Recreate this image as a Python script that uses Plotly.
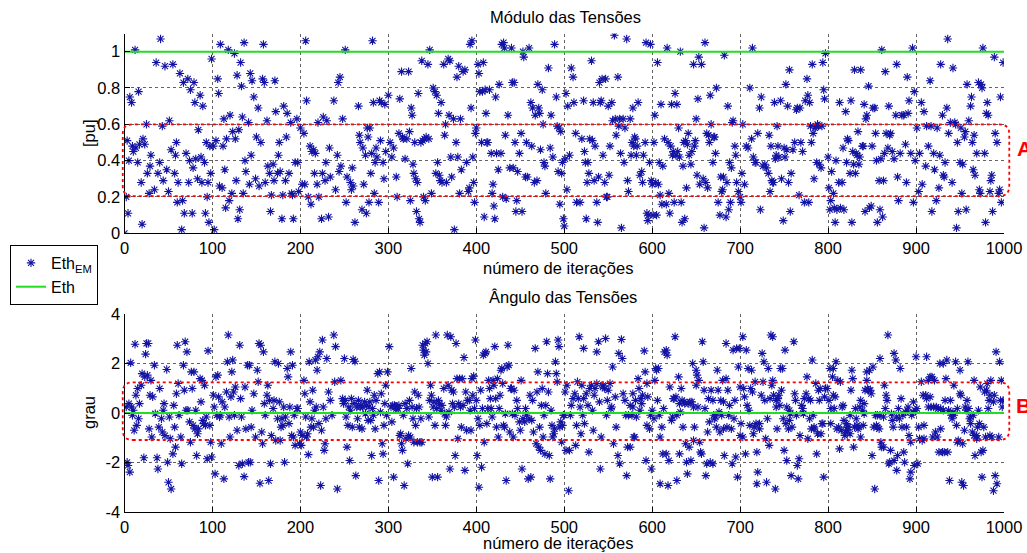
import plotly.graph_objects as go

# ---------------- data ----------------
# Top panel: (iteration, |E| in pu)
top_samples = [
(0,0.00),(2,0.20),(3,0.51),(4,0.11),(5,0.40),(6,0.75),(8,0.72),(9,0.48),(10,0.45),(12,1.01),(13,0.47),(15,0.39),(16,0.78),(17,0.49),(19,0.28),(20,0.05),(21,0.52),(23,0.49),(25,0.60),(26,0.33),
(28,0.22),(29,0.37),(30,0.43),(34,0.24),(36,0.94),(38,0.33),(40,0.39),(41,1.07),(43,0.59),(44,0.29),(46,0.92),(48,0.35),(50,0.23),(51,0.62),(53,0.46),(55,0.93),(57,0.33),(58,0.43),(59,0.50),(60,0.17),
(61,0.28),(63,0.88),(65,0.02),(66,0.18),(67,0.83),(68,0.11),(70,0.44),(72,0.85),(73,0.28),(74,0.40),(75,0.79),(77,0.11),(78,0.36),(79,0.83),(80,0.72),(81,0.41),(83,0.30),(84,0.57),(86,0.76),(87,0.42),
(88,0.28),(89,0.70),(91,0.39),(92,0.11),(93,0.50),(94,0.20),(95,0.28),(96,0.06),(97,0.48),(98,0.33),(99,0.96),(101,0.48),(102,0.02),(104,0.51),(106,0.85),(107,0.77),(108,0.26),(109,1.04),(111,0.25),(112,0.48),
(113,0.63),(114,0.35),(115,0.14),(116,0.52),(118,1.01),(119,0.18),(120,0.65),(122,0.22),(123,0.56),(125,0.99),(126,0.52),(127,0.29),(128,0.87),(129,0.08),(130,0.57),(131,0.13),(132,0.94),(133,0.81),(134,0.64),(135,0.22),
(136,1.05),(137,0.40),(138,0.34),(141,0.61),(142,0.27),(143,0.88),(144,0.43),(145,0.84),(147,0.75),(149,0.30),(150,0.53),(152,0.69),(153,0.26),(155,0.50),(157,0.85),(158,1.04),(159,0.83),(160,0.28),(162,0.62),(163,0.37),
(165,0.33),(166,0.12),(167,0.21),(169,0.38),(170,0.29),(171,0.84),(172,0.67),(174,0.33),(175,0.43),(176,0.50),(177,0.34),(179,0.08),(180,0.21),(181,0.70),(183,0.29),(184,0.53),(185,0.66),(187,0.33),(189,0.61),(190,0.22),
(191,0.21),(192,0.08),(194,0.39),(196,0.63),(197,0.39),(198,0.23),(200,0.58),(202,0.27),(204,0.55),(205,0.27),(206,1.06),(207,0.73),(209,0.20),(211,0.48),(212,0.16),(213,0.45),(215,0.46),(216,0.33),(217,0.44),(219,0.27),
(220,0.61),(221,0.20),(224,0.08),(225,0.33),(226,0.64),(228,0.29),(229,0.39),(230,0.62),(232,0.09),(233,0.47),(234,0.31),(238,0.73),(240,0.24),(242,0.43),(243,0.83),(244,0.34),(245,0.86),(246,0.37),(248,0.63),(251,1.01),
(252,0.17),(253,0.31),(257,0.28),(258,0.24),(259,0.36),(260,0.26),(262,0.06),(266,0.70),(267,0.54),(268,0.50),(270,0.13),(271,0.47),(272,0.27),(274,0.43),(275,0.11),(276,0.58),(277,0.53),(278,0.17),(279,0.58),(280,0.33),
(281,0.44),(282,1.06),(283,0.72),(284,0.22),(285,0.39),(286,0.47),(287,0.42),(289,0.17),(290,0.73),(291,0.51),(292,0.72),(294,0.39),(295,0.30),(296,0.71),(297,0.45),(300,0.76),(302,0.50),(304,0.42),(306,0.47),(309,0.31),
(310,0.20),(312,0.55),(313,0.74),(315,0.89),(316,0.53),(317,0.52),(319,0.41),(321,0.52),(323,0.89),(324,0.56),(325,0.18),(326,0.69),(327,0.65),(328,0.38),(329,0.33),(330,0.50),(331,0.30),(332,0.12),(333,0.28),(334,0.77),
(335,0.08),(336,0.06),(337,0.50),(338,0.95),(339,0.51),(340,0.20),(341,0.52),(342,0.18),(343,0.53),(345,0.93),(346,0.52),(347,1.01),(349,0.22),(351,0.80),(353,0.78),(354,0.33),(355,0.76),(356,0.39),(357,0.66),(358,0.32),
(359,0.29),(360,0.72),(361,0.28),(363,0.93),(364,0.54),(365,0.60),(366,0.28),(368,0.96),(369,0.65),(370,0.95),(371,0.42),(372,0.31),(374,0.63),(375,0.02),(377,0.50),(378,0.86),(379,0.42),(380,0.92),(381,0.22),(382,0.63),
(383,0.35),(385,0.89),(387,0.90),(389,0.39),(391,0.23),(392,0.25),(393,1.04),(394,0.69),(395,1.06),(396,0.42),(397,0.28),(398,0.17),(399,0.55),(400,0.58),(402,0.93),(403,0.88),(404,0.78),(406,0.50),(407,0.78),(408,0.94),
(409,0.09),(410,0.79),(411,0.66),(412,0.50),(413,0.50),(415,0.79),(417,0.44),(418,0.22),(419,0.27),(420,0.15),(421,0.08),(422,0.75),(423,0.44),(425,0.35),(426,0.82),(428,0.44),(429,1.04),(430,0.20),(431,1.05),(432,1.02),
(433,0.54),(434,0.19),(436,0.65),(438,0.36),(440,1.02),(441,0.83),(442,0.36),(443,0.83),(444,0.50),(445,0.12),(446,0.18),(447,0.34),(449,0.44),(451,0.55),(452,0.12),(453,1.00),(454,0.97),(456,0.31),(457,0.50),(458,0.31),
(460,1.02),(462,0.72),(463,0.48),(464,0.69),(466,0.28),(467,0.65),(469,0.29),(470,0.82),(471,0.69),(472,0.66),(473,0.46),(475,0.79),(476,0.60),(477,0.39),(478,0.37),(479,0.22),(482,0.91),(484,0.47),(485,0.65),(487,0.42),
(489,1.04),(491,0.75),(492,0.59),(493,0.34),(494,0.58),(495,0.16),(496,0.56),(497,0.33),(498,0.39),(499,0.08),(500,0.04),(501,0.41),(502,0.77),(503,0.24),(504,0.70),(506,0.43),(508,0.91),(510,0.86),(511,0.72),(513,0.55),
(514,0.17),(518,0.17),(520,0.52),(522,0.73),(523,0.45),(524,0.39),(525,0.08),(526,0.28),(527,0.39),(528,0.33),(529,0.52),(531,0.95),(532,0.51),(533,0.72),(534,0.29),(535,0.48),(537,0.17),(538,0.06),(539,0.31),(540,0.83),
(541,0.72),(542,0.73),(543,0.85),(544,0.43),(546,0.28),(547,0.85),(548,0.20),(549,0.20),(550,0.70),(551,0.32),(552,0.48),(554,0.72),(555,0.62),(557,1.09),(558,0.63),(559,0.54),(561,0.86),(562,0.59),(563,0.63),(564,0.44),
(565,0.03),(567,0.63),(568,0.39),(569,0.58),(571,1.07),(572,0.29),(573,0.23),(575,0.63),(576,0.43),(577,0.50),(578,0.69),(579,0.48),(580,0.53),(581,0.52),(582,0.43),(583,0.48),(584,0.72),(586,0.32),(588,0.34),(589,0.28),
(590,0.43),(592,0.50),(593,1.05),(594,0.11),(595,0.07),(596,0.10),(597,0.39),(598,1.04),(599,0.29),(600,0.27),(601,0.10),(602,0.50),(603,0.65),(604,0.28),(605,0.10),(606,0.94),(607,0.27),(608,0.39),(609,0.21),(610,0.71),
(611,0.16),(612,0.37),(614,0.52),(616,0.16),(617,1.02),(618,0.50),(619,0.22),(620,0.11),(621,0.48),(622,0.71),(623,0.43),(624,0.45),(625,0.17),(626,0.77),(627,0.43),(628,0.71),(629,0.45),(630,0.58),(631,0.42),(632,1.00),
(633,0.17),(634,0.06),(635,0.37),(636,0.50),(637,0.08),(638,0.51),(639,0.25),(640,0.49),(641,0.55),(642,0.43),(644,0.38),(645,0.45),(647,0.93),(648,0.48),(649,0.51),(650,0.63),(651,0.32),(652,0.74),(653,0.97),(654,0.27),
(656,0.93),(658,0.30),(659,0.03),(660,1.05),(661,0.28),(662,0.55),(663,0.25),(664,0.54),(665,0.50),(666,0.76),(667,0.60),(669,0.39),(670,0.53),(671,0.53),(672,0.44),(673,0.80),(675,0.17),(677,0.10),(678,0.31),(679,0.23),
(680,0.24),(681,0.31),(682,0.98),(684,0.09),(685,0.28),(686,0.70),(687,0.13),(688,0.39),(689,0.17),(690,0.36),(691,0.61),(692,0.62),(694,0.48),(695,0.43),(696,0.28),(698,0.23),(700,0.20),(701,0.17),(702,0.33),(703,0.60),
(705,0.27),(707,0.48),(709,0.47),(711,0.80),(713,0.52),(714,1.02),(715,0.42),(717,0.39),(718,0.39),(720,0.55),(722,0.69),(723,0.13),(724,0.75),(726,0.37),(728,0.38),(730,0.36),(732,0.33),(733,0.54),(734,0.23),(735,0.48),
(736,0.29),(737,0.28),(738,0.28),(739,0.72),(740,0.41),(741,0.43),(742,0.59),(743,0.48),(744,0.42),(746,0.73),(747,0.30),(749,0.07),(750,0.47),(751,0.42),(752,0.82),(753,0.46),(754,0.70),(755,0.28),(756,0.90),(757,0.12),
(758,0.33),(760,0.46),(762,0.50),(764,0.68),(765,0.69),(767,0.21),(768,0.69),(769,0.50),(771,0.45),(773,0.17),(774,0.73),(776,0.85),(777,0.76),(778,0.17),(779,0.72),(780,0.59),(781,0.50),(782,0.93),(783,0.55),(784,0.30),
(785,0.58),(786,0.59),(787,0.39),(788,0.60),(789,0.59),(790,0.38),(792,0.36),(793,0.59),(794,0.94),(795,0.79),(796,0.74),(797,0.99),(800,0.42),(801,0.25),(802,0.13),(803,0.18),(804,0.34),(806,0.22),(807,0.14),(808,0.06),
(809,0.40),(810,0.13),(812,0.28),(813,0.72),(814,0.14),(816,0.28),(817,0.47),(818,0.13),(820,0.67),(821,0.39),(822,0.52),(823,0.51),(825,0.33),(826,0.73),(827,0.06),(828,0.45),(829,0.38),(830,0.90),(831,0.33),(832,0.44),
(833,0.43),(834,0.56),(835,0.38),(836,0.42),(837,0.90),(839,0.48),(840,0.48),(841,0.71),(842,0.12),(843,0.63),(844,0.65),(846,0.81),(847,0.14),(849,0.15),(850,0.48),(851,0.69),(853,0.69),(854,0.55),(855,0.40),(856,0.06),
(858,0.29),(859,0.13),(860,0.41),(861,1.01),(862,0.09),(863,0.29),(864,0.44),(865,0.89),(866,0.55),(868,0.47),(869,0.70),(870,0.54),(871,0.55),(873,0.45),(875,0.41),(877,0.65),(878,0.93),(879,0.31),(880,0.18),(882,0.44),
(884,0.65),(886,0.65),(888,0.49),(889,0.28),(890,0.86),(891,0.66),(892,0.73),(894,0.44),(896,1.02),(897,0.17),(898,0.78),(899,0.40),(901,0.58),(903,0.23),(904,0.44),(906,0.72),(907,0.27),(909,0.67),(911,0.37),(912,0.59),
(914,0.48),(916,0.84),(917,0.59),(918,0.12),(920,0.44),(921,0.35),(923,0.18),(924,0.58),(926,0.25),(927,0.43),(928,0.93),(930,0.65),(931,0.32),(932,0.31),(933,0.39),(935,0.69),(936,1.07),(937,0.55),(939,0.61),(941,0.28),
(942,0.91),(944,0.61),(945,0.60),(946,0.03),(947,0.50),(948,0.12),(950,0.39),(951,0.58),(952,0.22),(953,0.38),(955,0.53),(956,0.56),(957,0.13),(958,0.82),(960,0.62),(962,0.70),(963,0.75),(964,0.50),(965,0.35),(966,0.54),
(967,0.32),(969,0.44),(971,0.83),(972,0.24),(973,0.22),(974,0.82),(975,0.80),(976,1.02),(978,0.44),(979,0.06),(980,0.66),(981,0.72),(982,0.65),(984,0.23),(985,0.29),(986,0.32),(987,0.12),(989,0.97),(990,0.55),(992,0.50),
(994,0.22),(995,0.24),(996,0.75),(997,0.17),(999,0.94),
]

# Bottom panel: (iteration, angle in degrees)
bottom_samples = [
(2,0.24),(3,-1.99),(4,-2.12),(5,0.38),(6,-2.39),(7,2.03),(8,0.24),(9,-0.09),(10,0.11),(11,-0.70),(12,2.78),(13,0.72),(14,-0.50),(15,0.99),(16,-0.23),(17,0.38),(19,1.12),(20,1.59),(22,-1.81),(23,1.46),
(24,2.38),(25,2.81),(26,1.53),(27,2.81),(28,-0.64),(29,0.72),(30,1.32),(31,-0.97),(32,0.65),(34,1.93),(35,-0.03),(37,-1.81),(38,-2.26),(39,-0.57),(40,0.99),(42,-0.23),(43,-0.77),(44,0.11),(45,0.38),(46,-0.91),
(48,1.76),(49,-1.99),(50,-2.80),(51,-0.16),(52,-1.04),(53,-3.07),(55,-1.65),(56,0.31),(57,-0.57),(58,-1.38),(59,0.78),(60,2.74),(61,1.19),(62,-0.09),(64,-0.97),(65,-2.05),(67,1.93),(68,0.92),(69,2.88),(70,0.11),
(71,2.47),(72,0.11),(74,-0.36),(75,-1.18),(76,1.66),(77,0.99),(78,-0.50),(79,1.66),(80,-0.64),(81,0.11),(82,-1.72),(83,-0.84),(84,-0.64),(86,1.39),(87,0.45),(88,1.32),(89,-0.30),(90,-0.43),(91,1.12),(92,-0.50),
(93,-0.16),(94,-1.85),(95,2.51),(97,-0.50),(98,-1.18),(99,-1.78),(101,0.72),(102,0.24),(103,-2.46),(104,1.46),(105,-0.09),(106,1.53),(107,0.65),(108,-0.16),(109,-0.09),(110,-1.24),(111,0.45),(113,-2.66),(114,0.24),(116,0.85),
(117,2.07),(118,3.15),(119,-0.16),(120,-0.97),(121,0.65),(122,1.66),(123,2.14),(124,0.85),(125,-0.09),(126,1.05),(128,-0.70),(130,-2.12),(131,2.74),(132,0.58),(133,-0.16),(134,-2.05),(136,-2.57),(137,1.05),(138,-0.64),(140,1.93),
(141,-1.99),(142,1.93),(143,-1.99),(144,-0.57),(145,0.11),(147,0.78),(149,-0.97),(151,1.73),(152,1.26),(153,2.81),(154,-2.84),(155,2.74),(156,-0.77),(157,-1.24),(158,2.47),(159,0.38),(160,-0.09),(162,0.72),(163,1.12),(164,-2.73),
(165,0.51),(166,-2.05),(167,-0.91),(169,0.18),(170,0.51),(171,2.07),(172,-1.11),(174,-0.23),(175,2.00),(176,0.45),(177,-1.11),(178,-0.57),(179,-0.23),(180,-0.50),(181,0.24),(182,-1.99),(183,-0.16),(185,1.80),(186,1.46),(187,-0.43),
(188,0.24),(189,2.47),(190,-0.91),(191,1.93),(192,-0.97),(193,-0.09),(194,-1.31),(196,0.18),(197,0.18),(199,-1.24),(200,-0.77),(201,-1.31),(202,-0.91),(204,1.32),(205,0.78),(206,-0.16),(207,-0.97),(208,-0.84),(209,-1.68),(210,2.07),
(211,0.45),(212,-0.57),(213,-0.23),(214,0.92),(215,-0.57),(216,0.11),(217,2.14),(218,0.24),(219,1.73),(220,2.27),(221,-0.43),(222,2.47),(223,-2.93),(224,-0.70),(225,2.95),(226,0.24),(227,-1.51),(228,-1.24),(229,-0.23),(230,2.20),
(232,0.85),(234,0.51),(236,-0.09),(238,3.15),(239,1.26),(240,2.68),(242,-3.07),(246,1.32),(248,0.58),(249,0.38),(250,2.20),(251,0.51),(252,-0.16),(253,-1.38),(254,-0.50),(255,0.24),(256,-1.92),(257,0.11),(258,0.58),(259,-0.57),
(260,2.16),(261,0.38),(262,2.09),(263,-2.53),(264,0.24),(265,-0.23),(266,0.51),(267,-0.57),(268,0.24),(269,0.31),(270,-0.64),(271,0.24),(273,0.45),(274,-0.03),(275,0.31),(276,0.92),(277,-0.30),(278,0.24),(279,0.45),(280,-0.30),
(281,-1.72),(282,0.18),(283,-0.09),(284,0.72),(285,-0.64),(286,0.51),(288,1.59),(289,-2.73),(290,1.66),(291,0.04),(292,0.78),(293,-1.24),(294,-1.65),(295,-0.50),(296,0.38),(297,1.12),(298,-0.09),(299,1.66),(301,2.68),(303,0.24),
(304,-0.36),(305,0.31),(306,-2.59),(307,0.31),(308,0.24),(309,0.18),(310,0.24),(311,0.18),(312,0.31),(313,-0.91),(314,-0.84),(315,-1.24),(316,-1.51),(317,-0.09),(318,-2.93),(319,0.38),(320,-1.04),(321,0.18),(322,-2.05),(323,-0.91),
(324,0.51),(325,-0.97),(326,1.80),(327,0.24),(328,-0.23),(329,-1.18),(330,0.85),(331,-0.50),(332,0.18),(333,-1.18),(334,0.72),(335,0.24),(336,-1.18),(337,-0.23),(338,-1.18),(339,2.74),(340,2.54),(341,2.34),(342,2.81),(343,2.47),
(344,2.88),(345,2.00),(346,-0.16),(347,0.51),(348,1.12),(349,0.72),(350,-2.59),(351,0.24),(352,0.45),(353,-0.50),(354,3.15),(355,0.18),(356,-2.59),(357,0.51),(358,0.38),(360,0.11),(361,0.31),(363,0.99),(364,-0.03),(365,-0.50),
(366,-0.16),(367,3.15),(368,1.12),(369,0.04),(370,-2.26),(371,3.08),(372,0.92),(373,0.38),(374,0.85),(375,0.24),(376,-1.72),(377,2.81),(378,1.39),(379,-1.04),(380,0.38),(381,1.39),(382,0.24),(383,-0.57),(384,1.39),(385,0.31),
(386,2.24),(387,-2.32),(388,0.85),(389,-0.70),(390,0.51),(392,0.51),(393,0.11),(394,-0.70),(395,1.39),(396,0.72),(397,1.49),(398,0.18),(399,2.95),(400,0.51),(401,-1.72),(402,-0.23),(403,-3.00),(404,-0.50),(405,0.92),(406,-2.19),
(407,0.18),(408,2.34),(409,-1.18),(410,2.41),(411,2.47),(412,-0.43),(413,0.18),(414,1.32),(415,0.99),(416,0.58),(417,0.18),(418,-0.16),(419,1.32),(420,1.12),(421,2.68),(422,0.58),(423,-0.57),(424,1.39),(425,-0.97),(426,0.18),
(427,0.72),(428,1.73),(429,1.80),(430,1.19),(431,-0.50),(432,-0.57),(433,-0.03),(434,-2.73),(435,1.86),(436,2.74),(437,1.93),(438,-0.77),(439,0.99),(440,0.99),(441,-0.03),(442,-0.97),(443,0.92),(444,-0.09),(446,0.51),(447,0.18),
(449,-0.36),(450,-0.70),(451,1.32),(452,-2.26),(453,-0.23),(455,-0.36),(456,0.18),(457,-0.09),(459,-2.66),(460,-0.23),(461,0.72),(462,-2.59),(463,-0.30),(464,0.51),(465,-0.77),(467,2.61),(468,-1.24),(469,0.85),(470,1.66),(471,-1.38),
(472,-0.57),(473,-1.51),(474,0.31),(475,0.99),(476,-0.97),(477,-0.09),(478,-1.65),(479,0.31),(480,2.88),(481,1.59),(482,0.85),(483,-1.72),(484,-2.66),(485,0.11),(486,-0.50),(487,-0.97),(488,-0.84),(489,-0.64),(490,2.07),(491,1.59),
(492,1.26),(493,2.95),(494,2.68),(495,-0.57),(496,-0.36),(497,-1.18),(498,-0.50),(499,-0.09),(500,-0.09),(501,0.85),(502,-1.51),(503,1.12),(505,-3.14),(506,-1.51),(507,-0.09),(508,0.31),(510,0.58),(512,0.78),(513,-1.31),(514,-0.50),
(515,1.26),(516,0.58),(517,3.08),(518,0.24),(519,-0.84),(520,1.12),(521,-0.09),(522,2.61),(522,0.58),(523,-0.43),(525,0.78),(527,0.31),(528,-1.58),(529,0.99),(531,1.12),(532,0.11),(533,-0.70),(534,0.72),(535,0.99),(537,2.47),
(537,1.19),(539,2.88),(540,0.45),(541,-2.26),(542,-0.97),(544,1.05),(544,1.12),(546,0.99),(547,3.01),(548,-0.09),(549,0.51),(550,0.92),(552,1.19),(553,0.18),(554,0.24),(555,1.86),(556,-1.24),(558,0.65),(559,-0.57),(561,-1.72),
(562,2.41),(563,-2.05),(565,2.97),(566,2.20),(567,0.78),(569,0.51),(570,-0.09),(571,-2.53),(572,-1.38),(573,-0.09),(575,0.31),(575,-1.38),(577,-0.09),(578,0.78),(578,0.24),(579,-0.97),(580,-0.97),(581,0.51),(582,-0.16),(584,1.39),
(585,0.99),(586,0.11),(587,0.58),(588,0.38),(589,0.72),(591,2.51),(592,1.66),(593,-1.92),(594,-0.50),(594,1.19),(595,0.65),(597,-0.64),(598,-0.09),(599,-2.26),(600,0.11),(602,-0.23),(603,1.32),(604,1.80),(605,1.73),(606,0.51),
(607,1.80),(608,-0.09),(609,-2.86),(609,-0.97),(611,-0.57),(612,-1.65),(613,0.18),(614,2.47),(616,-1.65),(616,2.54),(617,2.34),(618,-2.93),(619,-1.92),(620,1.05),(622,-0.30),(623,-0.16),(624,0.58),(625,0.58),(626,3.08),(627,0.65),
(628,-2.73),(628,-0.09),(630,1.46),(631,0.38),(631,-1.65),(632,0.04),(633,0.99),(634,0.51),(635,-0.57),(636,0.45),(637,0.38),(638,-1.24),(639,-1.99),(640,-2.46),(641,0.38),(642,-1.38),(643,0.45),(644,-1.92),(645,0.45),(646,2.00),
(647,-1.11),(647,0.24),(648,-0.57),(650,1.73),(650,1.12),(651,1.53),(652,0.24),(653,1.32),(654,-1.18),(655,-1.58),(656,-1.65),(657,2.88),(658,2.07),(659,0.92),(660,0.18),(661,-2.53),(662,-2.05),(663,-0.77),(664,0.58),(665,-0.36),
(666,-1.99),(667,0.92),(669,0.51),(669,-2.05),(670,-0.09),(671,-0.23),(672,-0.16),(673,-0.57),(674,1.73),(675,0.92),(676,0.04),(677,-0.77),(678,0.51),(679,-0.09),(680,1.32),(681,-0.64),(681,0.45),(682,-1.72),(684,1.39),(684,2.81),
(685,-0.57),(686,0.92),(687,-0.09),(688,0.31),(690,-0.64),(691,-2.05),(692,2.54),(693,-0.23),(694,0.51),(695,-1.78),(696,2.61),(697,-2.59),(698,1.86),(699,2.61),(700,-0.91),(700,1.05),(701,-0.43),(703,-0.97),(703,3.08),(704,0.99),
(705,0.65),(706,-1.65),(707,2.54),(708,0.31),(709,1.80),(710,0.11),(711,-0.50),(712,0.99),(713,1.73),(714,0.85),(715,-0.84),(716,-0.57),(717,1.26),(718,-0.43),(719,-1.58),(719,-2.86),(720,-2.39),(722,-0.43),(722,-0.64),(724,0.72),
(725,2.41),(726,1.26),(727,2.07),(728,0.51),(729,-1.04),(730,-2.80),(731,-0.23),(732,1.80),(733,-1.31),(734,0.58),(735,3.15),(736,1.12),(737,3.08),(737,1.32),(738,0.72),(740,-3.07),(741,0.51),(741,0.24),(742,-0.64),(743,0.58),
(744,0.72),(745,0.31),(746,1.80),(747,0.92),(748,1.80),(749,-0.23),(750,-1.51),(751,2.54),(752,-0.43),(753,-1.92),(753,0.24),(755,-0.64),(756,-0.30),(756,0.11),(757,-0.03),(758,-2.53),(759,-0.57),(761,2.88),(762,0.78),(763,0.51),
(764,-0.09),(765,-2.12),(766,-2.66),(767,-1.85),(768,-0.91),(770,0.31),(771,0.18),(772,-0.03),(773,0.58),(775,0.78),(776,1.46),(777,-1.04),(778,0.58),(779,-0.23),(780,0.51),(781,-0.64),(782,2.14),(783,-0.09),(784,-0.57),(784,-0.64),
(786,1.19),(787,-1.65),(788,-0.84),(789,0.92),(790,0.51),(791,0.99),(792,-0.84),(793,-0.43),(794,-0.43),(795,-2.59),(796,0.65),(797,0.99),(799,0.99),(801,0.51),(802,1.80),(803,-0.43),(803,0.18),(805,1.46),(806,0.72),(806,1.80),
(807,0.18),(808,0.65),(809,2.07),(810,-0.64),(811,1.32),(812,-0.57),(813,-1.45),(814,1.26),(815,-0.70),(816,0.24),(817,0.31),(818,-0.30),(819,-0.91),(820,-0.77),(821,-0.43),(822,-0.70),(822,-0.57),(823,-0.57),(825,-0.09),(825,-0.84),
(826,0.92),(827,1.73),(828,1.39),(829,-1.38),(830,-0.57),(831,0.18),(832,-0.23),(833,-0.50),(834,-0.64),(835,-0.57),(836,0.24),(837,-0.97),(837,0.51),(839,0.11),(840,-0.50),(841,-0.03),(841,0.38),(842,0.92),(844,1.32),(844,1.66),
(845,0.99),(846,0.92),(847,1.73),(848,0.92),(849,0.78),(850,-1.72),(851,1.86),(852,-0.57),(853,-3.07),(854,-0.09),(855,-0.50),(856,-0.57),(856,-0.09),(858,-0.64),(859,2.20),(859,-0.09),(860,-1.18),(861,-1.38),(863,-1.38),(863,-0.16),
(864,1.12),(865,0.18),(866,0.72),(867,0.51),(868,3.15),(869,-2.05),(870,-1.99),(871,-1.51),(872,-0.03),(873,-0.30),(874,-0.57),(875,-1.92),(875,2.41),(877,2.14),(878,-2.32),(878,-0.16),(879,-1.72),(880,0.18),(881,-0.23),(882,1.80),
(883,0.58),(884,-0.57),(885,-0.09),(886,-1.58),(887,-1.99),(888,0.04),(889,-0.57),(890,0.11),(891,0.24),(892,-0.91),(893,-2.66),(894,-1.18),(894,-2.39),(895,-0.09),(897,0.45),(897,0.04),(898,-2.12),(899,0.11),(900,2.27),(901,0.18),
(902,-2.05),(903,-0.57),(904,-1.04),(906,1.26),(907,-1.11),(908,0.72),(909,-0.50),(909,-1.04),(911,0.72),(912,2.27),(912,0.58),(914,0.24),(914,1.32),(916,1.46),(916,0.65),(917,0.24),(918,1.46),(919,-0.97),(920,0.24),(921,1.32),
(922,-0.77),(923,0.24),(924,-0.97),(925,0.18),(926,-1.58),(927,2.00),(928,-0.64),(928,0.18),(930,-1.58),(931,0.11),(931,2.00),(932,-1.58),(933,0.51),(934,1.39),(935,2.14),(936,-1.58),(937,0.11),(938,-2.73),(939,0.51),(940,-0.09),
(941,-0.23),(942,0.04),(943,1.12),(943,-0.09),(945,2.07),(946,-0.50),(947,-1.18),(947,0.18),(948,-1.11),(950,1.73),(950,0.78),(951,0.72),(952,-2.80),(953,-1.24),(954,-2.93),(955,-0.70),(956,0.24),(957,0.11),(958,0.51),(959,2.07),
(960,0.18),(961,-0.23),(962,-0.43),(962,-0.16),(964,-0.77),(965,-0.09),(966,1.32),(966,-0.91),(967,-1.72),(969,-0.91),(969,-1.04),(970,-0.57),(971,0.11),(972,-0.43),(973,1.05),(974,-1.58),(975,-2.59),(976,-1.51),(977,-0.57),(978,0.85),
(979,-0.97),(980,0.92),(981,1.19),(982,0.18),(983,0.51),(984,-0.91),(984,0.72),(985,1.32),(986,-0.97),(988,0.45),(988,-3.14),(989,0.72),(990,-2.53),(991,2.47),(992,-2.86),(994,-0.97),(995,2.07),(996,0.51),(997,1.32),(998,0.24),
(999,0.51),
]

top_iter = [p[0] for p in top_samples]
top_pu = [p[1] for p in top_samples]
bot_iter = [p[0] for p in bottom_samples]
bot_grau = [p[1] for p in bottom_samples]

# reference (Eth) values
eth_iter = [0, 1000]
eth_mod = [1.0, 1.0]
eth_ang = [0.0, 0.0]

# highlighted bands (data units)
band_A = dict(x0=-2, x1=1006, y0=0.205, y1=0.60)
band_B = dict(x0=-2, x1=1006, y0=-1.09, y1=1.24)

x_ticks = list(range(0, 1001, 100))
top_yticks = [0, 0.2, 0.4, 0.6, 0.8, 1]
top_yticktext = ["0", "0.2", "0.4", "0.6", "0.8", "1"]
bot_yticks = [-4, -2, 0, 2, 4]
bot_yticktext = ["-4", "-2", "0", "2", "4"]

# ---------------- layout constants ----------------
W, H = 1027, 553
FONT = "Arial, 'Liberation Sans', Helvetica, sans-serif"
BLUE = "#1414a4"
GREEN = "#22dd22"
GRID = "rgba(70,70,70,0.85)"

def px_x(p):
    return p / W

def px_y(p):
    return 1 - p / H

XDOM = [px_x(124.5), px_x(1004)]
TOP_DOM = [px_y(233.3), px_y(33.5)]
BOT_DOM = [px_y(512), px_y(314)]
X_RANGE = [0, 1000]
TOP_RANGE = [0, 1.1]
BOT_RANGE = [-4, 4]

fig = go.Figure()

marker = dict(symbol="asterisk-open", size=7, color=BLUE, line=dict(width=1.1, color=BLUE))

fig.add_trace(go.Scatter(x=top_iter, y=top_pu, mode="markers", name="Eth<sub>EM</sub>",
                         marker=marker, xaxis="x", yaxis="y"))
fig.add_trace(go.Scatter(x=eth_iter, y=eth_mod, mode="lines", name="Eth",
                         line=dict(color=GREEN, width=2), xaxis="x", yaxis="y"))
fig.add_trace(go.Scatter(x=bot_iter, y=bot_grau, mode="markers", showlegend=False,
                         marker=marker, xaxis="x2", yaxis="y2"))
fig.add_trace(go.Scatter(x=eth_iter, y=eth_ang, mode="lines", showlegend=False,
                         line=dict(color=GREEN, width=2), xaxis="x2", yaxis="y2"))

axis_common = dict(showgrid=True, gridcolor=GRID, griddash="dot", gridwidth=1,
                   showline=True, linecolor="black", linewidth=1, mirror=False,
                   ticks="inside", ticklen=5, tickcolor="black", zeroline=False,
                   automargin=False,
                   tickfont=dict(family=FONT, size=16.5, color="black"))

fig.update_layout(
    template="none",
    width=W, height=H, margin=dict(l=0, r=0, t=0, b=0, pad=0, autoexpand=False),
    paper_bgcolor="white", plot_bgcolor="white",
    font=dict(family=FONT, size=16.5, color="black"),
    xaxis=dict(domain=XDOM, range=X_RANGE, anchor="y", tickvals=x_ticks, **axis_common),
    yaxis=dict(domain=TOP_DOM, range=TOP_RANGE, anchor="x", tickvals=top_yticks,
               ticktext=top_yticktext, **axis_common),
    xaxis2=dict(domain=XDOM, range=X_RANGE, anchor="y2", tickvals=x_ticks, **axis_common),
    yaxis2=dict(domain=BOT_DOM, range=BOT_RANGE, anchor="x2", tickvals=bot_yticks,
                ticktext=bot_yticktext, **axis_common),
    legend=dict(x=px_x(10), y=px_y(245), xanchor="left", yanchor="top",
                bgcolor="white", bordercolor="black", borderwidth=1,
                font=dict(family=FONT, size=16, color="black"), tracegroupgap=0),
    showlegend=True,
)

def to_paper(xv, yv, ydom, yrange):
    fx = (xv - X_RANGE[0]) / (X_RANGE[1] - X_RANGE[0])
    fy = (yv - yrange[0]) / (yrange[1] - yrange[0])
    return XDOM[0] + fx * (XDOM[1] - XDOM[0]), ydom[0] + fy * (ydom[1] - ydom[0])

def rounded_band(band, ydom, yrange, r_px=10):
    x0, y0 = to_paper(band["x0"], band["y0"], ydom, yrange)
    x1, y1 = to_paper(band["x1"], band["y1"], ydom, yrange)
    rx, ry = r_px / W, r_px / H
    path = (f"M {x0+rx},{y0} L {x1-rx},{y0} Q {x1},{y0} {x1},{y0+ry} "
            f"L {x1},{y1-ry} Q {x1},{y1} {x1-rx},{y1} L {x0+rx},{y1} "
            f"Q {x0},{y1} {x0},{y1-ry} L {x0},{y0+ry} Q {x0},{y0} {x0+rx},{y0} Z")
    return dict(type="path", path=path, xref="paper", yref="paper",
                line=dict(color="red", width=1.8, dash="dot"), layer="above")

fig.update_layout(shapes=[rounded_band(band_A, TOP_DOM, TOP_RANGE),
                          rounded_band(band_B, BOT_DOM, BOT_RANGE)])

def label(text, xp, yp, size=16.5, angle=0, color="black", bold=False, xanchor="center"):
    t = f"<b>{text}</b>" if bold else text
    return dict(text=t, x=px_x(xp), y=px_y(yp), xref="paper", yref="paper",
                showarrow=False, textangle=angle, xanchor=xanchor, yanchor="middle",
                font=dict(family=FONT, size=size, color=color))

fig.update_layout(annotations=[
    label("Módulo das Tensões", 565, 17),
    label("número de iterações", 558, 268),
    label("[pu]", 89, 133, angle=-90),
    label("Ângulo das Tensões", 563, 297),
    label("número de iterações", 558, 543),
    label("grau", 89, 413, angle=-90),
    label("A", 1015, 148, size=21, color="red", bold=True, xanchor="left"),
    label("B", 1014, 405, size=21, color="red", bold=True, xanchor="left"),
])

fig.write_html("out.html", config={"displayModeBar": False},
               post_script="document.body.style.margin='0px';document.body.style.overflow='hidden';")
